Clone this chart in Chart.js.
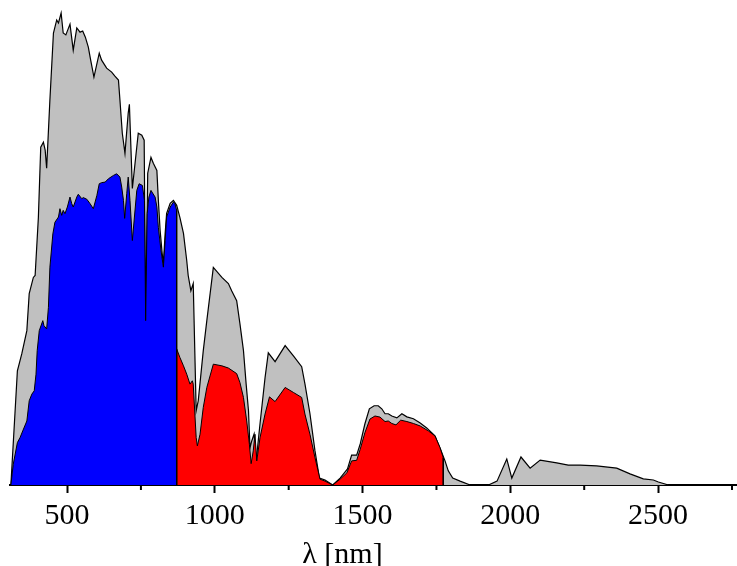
<!DOCTYPE html>
<html>
<head>
<meta charset="utf-8">
<script src="https://cdn.jsdelivr.net/npm/chart.js@4"></script>
<style>
  html, body { margin: 0; padding: 0; background: #fff; }
</style>
</head>
<body>
<canvas id="spectrum" width="737" height="566"></canvas>
<script>
// full spectrum (grey)
const grayNm = [310,332,347,364,372,386,392,403,411,420,426,431,442,454,465,471,480,487,496,510,
  521,533,544,553,562,572,580,591,609,617,634,651,662,674,679,687,696,707,711,721,
  741,753,761,766,773,784,792,804,809,815,822,826,832,837,849,860,871,882,894,905,
  910,919,927,937,944,961,973,995,1024,1046,1057,1074,1085,1097,1106,1114,1119,1125,1133,1140,
  1153,1170,1181,1204,1238,1266,1294,1305,1322,1339,1354,1373,1399,1424,1449,1463,1480,1492,1508,1523,
  1539,1553,1565,1576,1587,1599,1616,1633,1650,1672,1695,1717,1745,1762,1779,1790,1805,1830,1864,1926,
  1955,1988,2005,2036,2067,2101,2157,2196,2236,2292,2360,2405,2450,2484,2501,2535];
const grayVal = [0,0.412,0.474,0.557,0.691,0.749,0.756,0.965,1.219,1.237,1.208,1.143,1.389,1.631,1.678,1.667,1.703,1.631,1.624,1.663,
  1.569,1.649,1.634,1.638,1.616,1.580,1.533,1.472,1.558,1.533,1.504,1.490,1.475,1.461,1.389,1.269,1.197,1.342,1.374,1.070,
  1.269,1.262,1.244,0.593,1.125,1.182,1.161,1.135,1.027,0.918,0.835,0.799,0.908,0.980,1.016,1.027,1.009,0.965,0.908,0.810,
  0.756,0.701,0.727,0.268,0.304,0.485,0.593,0.785,0.749,0.727,0.701,0.665,0.582,0.485,0.365,0.268,0.134,0.159,0.184,0.087,
  0.221,0.387,0.477,0.445,0.503,0.466,0.427,0.365,0.257,0.123,0.025,0.018,0,0.025,0.058,0.108,0.108,0.148,0.221,0.275,
  0.286,0.286,0.275,0.257,0.257,0.249,0.242,0.257,0.246,0.239,0.224,0.206,0.177,0.134,0.087,0.051,0.025,0.014,0,0,
  0.014,0.094,0.025,0.101,0.061,0.090,0.080,0.072,0.072,0.069,0.061,0.040,0.022,0.018,0.011,0];

// blue part
const blueNm = [310,318,332,341,350,364,372,381,389,395,399,406,418,422,431,437,442,452,459,471,
  476,482,487,493,501,510,516,521,533,538,550,555,567,578,589,601,609,617,629,640,
  657,668,679,685,691,695,702,707,713,721,728,736,744,755,762,766,771,777,784,798,
  804,809,818,826,832,837,849,860,865,871,871];
const blueVal = [0,0.075,0.153,0.171,0.195,0.231,0.304,0.328,0.340,0.400,0.485,0.557,0.593,0.575,0.563,0.641,0.786,0.906,0.948,0.967,
  0.997,0.973,0.991,0.979,1.003,1.039,1.015,1.003,1.039,1.049,1.033,1.037,1.031,1.015,0.997,1.045,1.087,1.091,1.093,1.105,
  1.117,1.123,1.111,1.075,1.027,0.962,1.051,1.111,1.027,0.882,0.967,1.063,1.087,1.081,1.027,0.593,0.979,1.039,1.063,1.039,
  1.003,0.930,0.846,0.786,0.882,0.967,1.003,1.021,1.015,0.991,0];

// red part
const redNm = [871,871,882,894,905,916,924,927,937,941,950,961,973,995,1024,1046,1074,1085,1097,1108,
  1117,1123,1130,1136,1142,1153,1170,1185,1204,1238,1266,1294,1305,1322,1339,1356,1373,1399,1424,1447,
  1463,1480,1492,1508,1525,1542,1559,1576,1587,1599,1613,1629,1650,1672,1695,1723,1745,1762,1773,1773];
const redVal = [0,0.491,0.460,0.430,0.400,0.364,0.376,0.364,0.171,0.141,0.183,0.280,0.352,0.436,0.430,0.422,0.402,0.370,0.316,0.231,
  0.147,0.077,0.123,0.183,0.087,0.171,0.256,0.318,0.301,0.352,0.334,0.316,0.256,0.183,0.099,0.021,0.014,0,0.021,0.044,
  0.087,0.089,0.129,0.189,0.238,0.249,0.245,0.229,0.231,0.222,0.217,0.234,0.229,0.222,0.213,0.195,0.177,0.135,0.099,0];

const majorTicks = [500, 1000, 1500, 2000, 2500];
const minorTicks = [750, 1250, 1750, 2250, 2750];

const toPoints = (xs, ys) => xs.map((x, i) => ({x: x, y: ys[i]}));

// short ticks between the labelled ones
const minorTickPlugin = {
  id: 'minorTicks',
  afterDraw(chart) {
    const sx = chart.scales.x;
    const ctx = chart.ctx;
    ctx.save();
    ctx.strokeStyle = '#000';
    ctx.lineWidth = 2;
    minorTicks.forEach(v => {
      const px = sx.getPixelForValue(v);
      ctx.beginPath();
      ctx.moveTo(px, sx.top);
      ctx.lineTo(px, sx.top + 5);
      ctx.stroke();
    });
    ctx.restore();
  }
};

// axis caption, sits a bit left of the axis centre in the original
const axisTitlePlugin = {
  id: 'axisTitle',
  afterDraw(chart) {
    const sx = chart.scales.x;
    const ctx = chart.ctx;
    ctx.save();
    ctx.fillStyle = '#000';
    ctx.font = '30px "Liberation Serif"';
    ctx.textAlign = 'center';
    ctx.textBaseline = 'alphabetic';
    ctx.fillText('λ [nm]', (chart.chartArea.left + chart.chartArea.right) / 2 - 31, sx.bottom + 24);
    ctx.restore();
  }
};

const config = {
  type: 'line',
  data: {
    datasets: [{
      label: 'spectrum',
      data: toPoints(grayNm, grayVal),
      backgroundColor: '#c0c0c0',
      borderColor: '#000',
      borderWidth: 1.2,
      fill: 'origin',
      order: 2
    }, {
      label: 'blue',
      data: toPoints(blueNm, blueVal),
      backgroundColor: '#0000ff',
      borderColor: '#000',
      borderWidth: 1,
      fill: 'origin',
      order: 1
    }, {
      label: 'red',
      data: toPoints(redNm, redVal),
      backgroundColor: '#ff0000',
      borderColor: '#000',
      borderWidth: 1,
      fill: 'origin',
      order: 1
    }]
  },
  options: {
    responsive: false,
    animation: false,
    layout: { padding: { left: 10, right: 0, top: 0, bottom: 27 } },
    elements: { point: { radius: 0 }, line: { tension: 0 } },
    plugins: { legend: { display: false }, tooltip: { enabled: false } },
    scales: {
      x: {
        type: 'linear',
        min: 307,
        max: 2767,
        afterBuildTicks: axis => { axis.ticks = majorTicks.map(v => ({value: v})); },
        ticks: {
          autoSkip: false,
          maxRotation: 0,
          padding: 5,
          color: '#000',
          font: { family: 'Liberation Serif', size: 30 },
          callback: v => String(v)
        },
        grid: {
          drawOnChartArea: false,
          drawTicks: true,
          tickLength: 8,
          tickWidth: 2,
          tickColor: '#000'
        },
        border: { display: true, color: '#000', width: 2 }
      },
      y: { display: false, min: 0, max: 1.75 }
    }
  },
  plugins: [minorTickPlugin, axisTitlePlugin]
};

const spectrumChart = new Chart(document.getElementById('spectrum'), config);
</script>
</body>
</html>
